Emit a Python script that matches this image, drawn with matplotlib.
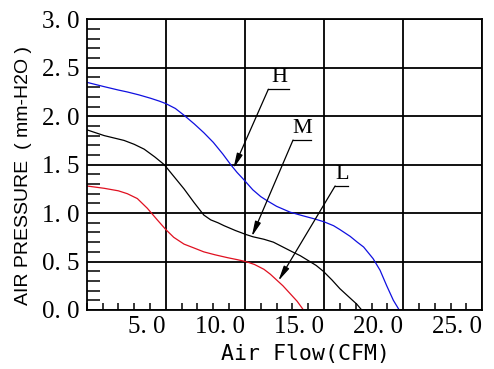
import matplotlib
matplotlib.use("Agg")
import matplotlib.pyplot as plt
from matplotlib.ticker import MultipleLocator

# fan curves (CFM vs mm-H2O)
h_flow = [0, 1.1, 2.0, 2.57, 3.3, 4.04, 4.6, 5.0, 5.6, 6.15, 6.8, 7.4, 8.0, 8.6,
          9.1, 9.5, 9.9, 10.5, 11.0, 11.38, 12.0, 12.85, 13.6, 14.4, 15.0, 15.6,
          16.0, 16.65, 17.1, 17.5, 18.1, 18.54, 18.96, 19.38, 19.75]
h_pres = [2.35, 2.305, 2.27, 2.25, 2.22, 2.185, 2.155, 2.13, 2.08, 2.01, 1.92, 1.83,
          1.73, 1.61, 1.50, 1.42, 1.35, 1.24, 1.17, 1.13, 1.07, 1.01, 0.975, 0.94,
          0.91, 0.87, 0.83, 0.76, 0.70, 0.65, 0.53, 0.41, 0.25, 0.10, 0.0]

m_flow = [0, 1.1, 2.36, 3.0, 3.63, 4.3, 4.9, 5.3, 5.7, 6.15, 6.78, 7.4, 7.84, 8.3,
          8.68, 9.4, 10.05, 10.5, 11.2, 11.8, 12.4, 13.0, 13.5, 14.0, 14.5, 14.95,
          15.5, 16.0, 16.6, 17.07, 17.38]
m_pres = [1.86, 1.80, 1.75, 1.71, 1.66, 1.58, 1.50, 1.42, 1.34, 1.25, 1.11, 0.98,
          0.93, 0.90, 0.87, 0.82, 0.78, 0.756, 0.73, 0.70, 0.65, 0.60, 0.56, 0.51,
          0.46, 0.40, 0.31, 0.22, 0.13, 0.06, 0.0]

l_flow = [0, 1.1, 2.0, 2.57, 3.2, 3.83, 4.46, 5.0, 5.5, 6.15, 6.78, 7.4, 8.1, 8.9,
          9.5, 10.05, 10.6, 11.2, 11.6, 12.0, 12.4, 12.85, 13.3, 13.7]
l_pres = [1.28, 1.256, 1.23, 1.20, 1.15, 1.05, 0.93, 0.83, 0.75, 0.68, 0.64, 0.60,
          0.57, 0.54, 0.52, 0.50, 0.47, 0.42, 0.37, 0.31, 0.25, 0.17, 0.09, 0.0]

x_ticks = [5, 10, 15, 20, 25]
x_labels = ["5. 0", "10. 0", "15. 0", "20. 0", "25. 0"]
y_ticks = [0, 0.5, 1.0, 1.5, 2.0, 2.5, 3.0]
y_labels = ["0. 0", "0. 5", "1. 0", "1. 5", "2. 0", "2. 5", "3. 0"]

fig = plt.figure(figsize=(4.94, 3.69), dpi=100)
ax = fig.add_axes([0.1755, 0.1599, 0.8008, 0.7878])

ax.plot(h_flow, h_pres, color="#1010e0", lw=0.9)
ax.plot(m_flow, m_pres, color="black", lw=0.9)
ax.plot(l_flow, l_pres, color="#e01020", lw=0.9)

ax.set_xlim(0, 25)
ax.set_ylim(0, 3)
ax.set_xticks(x_ticks)
ax.set_xticklabels(x_labels, family="Liberation Serif", fontsize=18, ha="right")
ax.set_yticks(y_ticks)
ax.set_yticklabels(y_labels, family="Liberation Serif", fontsize=18)
ax.xaxis.set_minor_locator(MultipleLocator(1))
ax.yaxis.set_minor_locator(MultipleLocator(0.1))
ax.tick_params(which="major", length=0, pad=5)
ax.tick_params(axis="x", which="major", pad=4)
ax.tick_params(axis="y", which="minor", direction="in", length=9.5, width=1.1)
ax.tick_params(axis="x", which="minor", direction="in", length=5, width=1.1)
ax.grid(True, which="major", color="black", lw=1.3)
for s in ax.spines.values():
    s.set_linewidth(1.3)

# curve labels with leader arrows
tags = [("H", 11.48, 12.81, 2.278, 9.27, 1.46),
        ("M", 13.04, 14.16, 1.754, 10.43, 0.758),
        ("L", 15.70, 16.54, 1.28, 12.11, 0.30)]
for name, x0, x1, yy, tx, ty in tags:
    ax.plot([x0, x1], [yy, yy], color="black", lw=0.9)
    ax.text((x0 + x1) / 2, yy + 0.02, name, family="Liberation Serif",
            fontsize=16, ha="center", va="bottom")
    ax.annotate("", xy=(tx, ty), xytext=(x0, yy),
                arrowprops=dict(arrowstyle="-|>,head_length=0.9,head_width=0.18",
                                color="black", lw=0.9, shrinkA=0, shrinkB=0))

fig.text(305 / 494, (369 - 354) / 369, "Air Flow(CFM)", family="DejaVu Sans Mono",
         fontsize=15.5, ha="center", va="center")
fig.text(24 / 494, (369 - 305) / 369, "AIR PRESSURE", family="Liberation Sans",
         fontsize=14, rotation=90, ha="center", va="bottom")
fig.text(23 / 494, (369 - 149) / 369, "( mm-H2O )", family="Liberation Sans",
         fontsize=14, rotation=90, ha="center", va="bottom")

fig.savefig("out.png", dpi=100)
